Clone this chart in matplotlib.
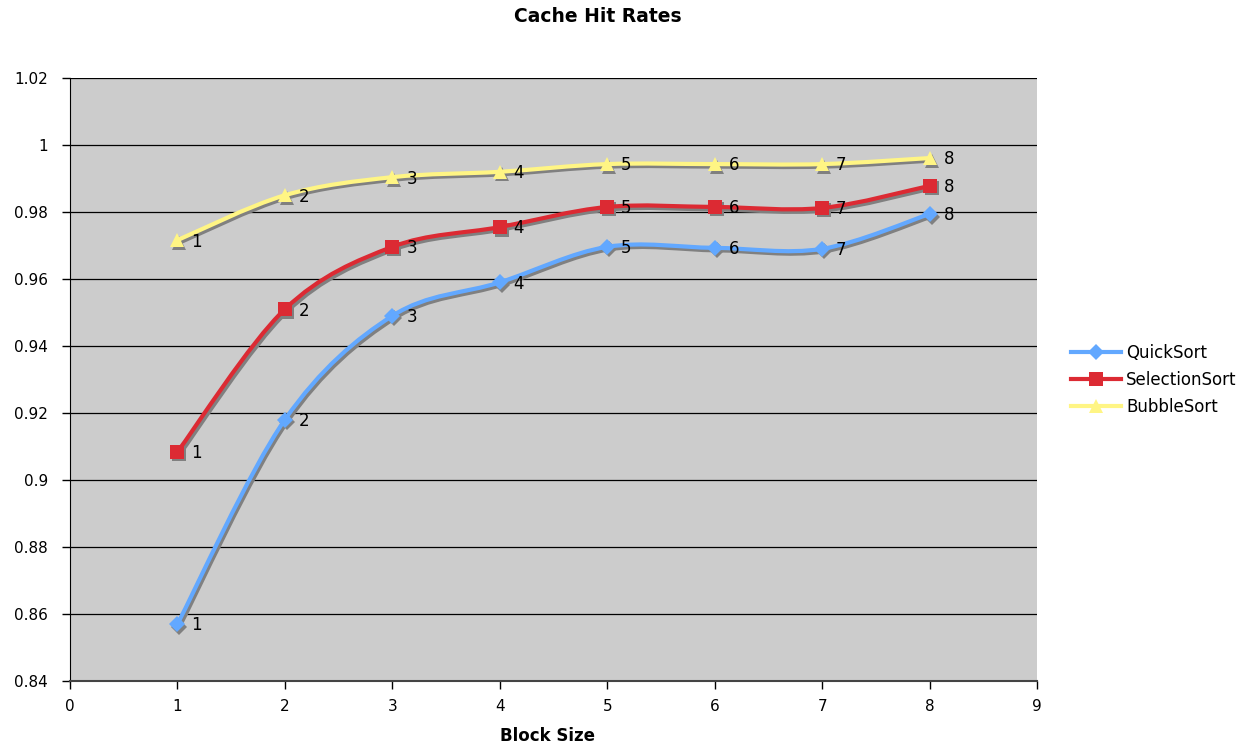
import numpy as np
import matplotlib
matplotlib.use("Agg")
import matplotlib.pyplot as plt
from matplotlib.path import Path
from matplotlib.patches import PathPatch
from matplotlib.transforms import ScaledTranslation
from matplotlib.lines import Line2D

# Block sizes and hit rates per algorithm
block_size = [1, 2, 3, 4, 5, 6, 7, 8]
quick_sort = [0.857, 0.918, 0.949, 0.959, 0.9696, 0.9693, 0.969, 0.9794]
selection_sort = [0.9084, 0.951, 0.9696, 0.9755, 0.9815, 0.9815, 0.9812, 0.9878]
bubble_sort = [0.9716, 0.985, 0.9904, 0.992, 0.9943, 0.9943, 0.9943, 0.9961]

series_names = ["QuickSort", "SelectionSort", "BubbleSort"]
series_values = [quick_sort, selection_sort, bubble_sort]
series_colors = ["#62A8FF", "#DC2A33", "#FFF584"]
series_markers = ["D", "s", "^"]
marker_sizes = [8, 10, 10]

y_ticks = [0.84, 0.86, 0.88, 0.90, 0.92, 0.94, 0.96, 0.98, 1.00, 1.02]
y_tick_labels = ["0.84", "0.86", "0.88", "0.9", "0.92", "0.94", "0.96", "0.98", "1", "1.02"]
x_ticks = [0, 1, 2, 3, 4, 5, 6, 7, 8, 9]

plt.rcParams["font.family"] = ["DejaVu Sans"]

fig = plt.figure(figsize=(12.51, 7.5), dpi=100)
ax = fig.add_axes([70 / 1251, 1 - 681 / 750, (1037 - 70) / 1251, (681 - 78) / 750])
ax.set_facecolor("#CCCCCC")
ax.set_xlim(0, 9)
ax.set_ylim(0.84, 1.02)
ax.set_xticks(x_ticks)
ax.set_yticks(y_ticks)
ax.set_yticklabels(y_tick_labels)
ax.tick_params(axis="both", direction="out", length=6, width=1, labelsize=11,
               colors="black")
ax.tick_params(axis="y", pad=10)
ax.tick_params(axis="x", pad=7)
for side in ("top", "right"):
    ax.spines[side].set_visible(False)
ax.spines["left"].set_color("black")
ax.spines["bottom"].set_color("#444444")
ax.spines["bottom"].set_linewidth(1.5)
ax.set_axisbelow(True)
for yt in y_ticks[1:]:
    ax.axhline(yt, color="black", linewidth=0.9, zorder=1)


def smooth_path(xs, ys, tension=1 / 6):
    """Bezier path through the points with Catmull-Rom style tangents."""
    pts = np.column_stack([xs, ys]).astype(float)
    n = len(pts)
    verts = [pts[0]]
    codes = [Path.MOVETO]
    for i in range(n - 1):
        p0 = pts[i - 1] if i > 0 else pts[i]
        p1 = pts[i]
        p2 = pts[i + 1]
        p3 = pts[i + 2] if i + 2 < n else pts[i + 1]
        c1 = p1 + (p2 - p0) * tension
        c2 = p2 - (p3 - p1) * tension
        verts += [c1, c2, p2]
        codes += [Path.CURVE4] * 3
    return Path(verts, codes)


shadow_shift = ScaledTranslation(2 / 100, -2.5 / 100, fig.dpi_scale_trans)
shadow_tr = ax.transData + shadow_shift

for k, (name, vals, col, mk, ms) in enumerate(
        zip(series_names, series_values, series_colors, series_markers, marker_sizes)):
    path = smooth_path(block_size, vals)
    # shadow of the line and markers
    ax.add_patch(PathPatch(path, facecolor="none", edgecolor="#808080", linewidth=3.0,
                           transform=shadow_tr, zorder=3 + k * 0.1, capstyle="round"))
    ax.plot(block_size, vals, linestyle="none", marker=mk, markersize=ms,
            color="#808080", markeredgewidth=0, transform=shadow_tr, zorder=3 + k * 0.1)
    # the line itself
    ax.add_patch(PathPatch(path, facecolor="none", edgecolor=col, linewidth=3.0,
                           zorder=4 + k * 0.1, capstyle="round"))
    ax.plot(block_size, vals, linestyle="none", marker=mk, markersize=ms,
            color=col, markeredgewidth=0, zorder=5 + k * 0.1)
    for xv, yv in zip(block_size, vals):
        ax.annotate(str(xv), (xv, yv), xytext=(10, -1), textcoords="offset points",
                    fontsize=12, color="black", va="center", ha="left", zorder=6)

handles = [Line2D([], [], color=c, linewidth=3.0, marker=m, markersize=s, markeredgewidth=0)
           for c, m, s in zip(series_colors, series_markers, marker_sizes)]
fig.legend(handles, series_names, loc="center left",
           bbox_to_anchor=(1056 / 1251, 1 - 380 / 750), frameon=False,
           fontsize=12, handlelength=3.0, handletextpad=0.3, labelspacing=0.55)

fig.text(598 / 1251, 1 - 16 / 750, "Cache Hit Rates", ha="center", va="center",
         fontsize=13.5, fontweight="bold")
fig.text(548 / 1251, 1 - 736 / 750, "Block Size", ha="center", va="center",
         fontsize=12, fontweight="bold")

fig.savefig("out.png", dpi=100, facecolor="white")
